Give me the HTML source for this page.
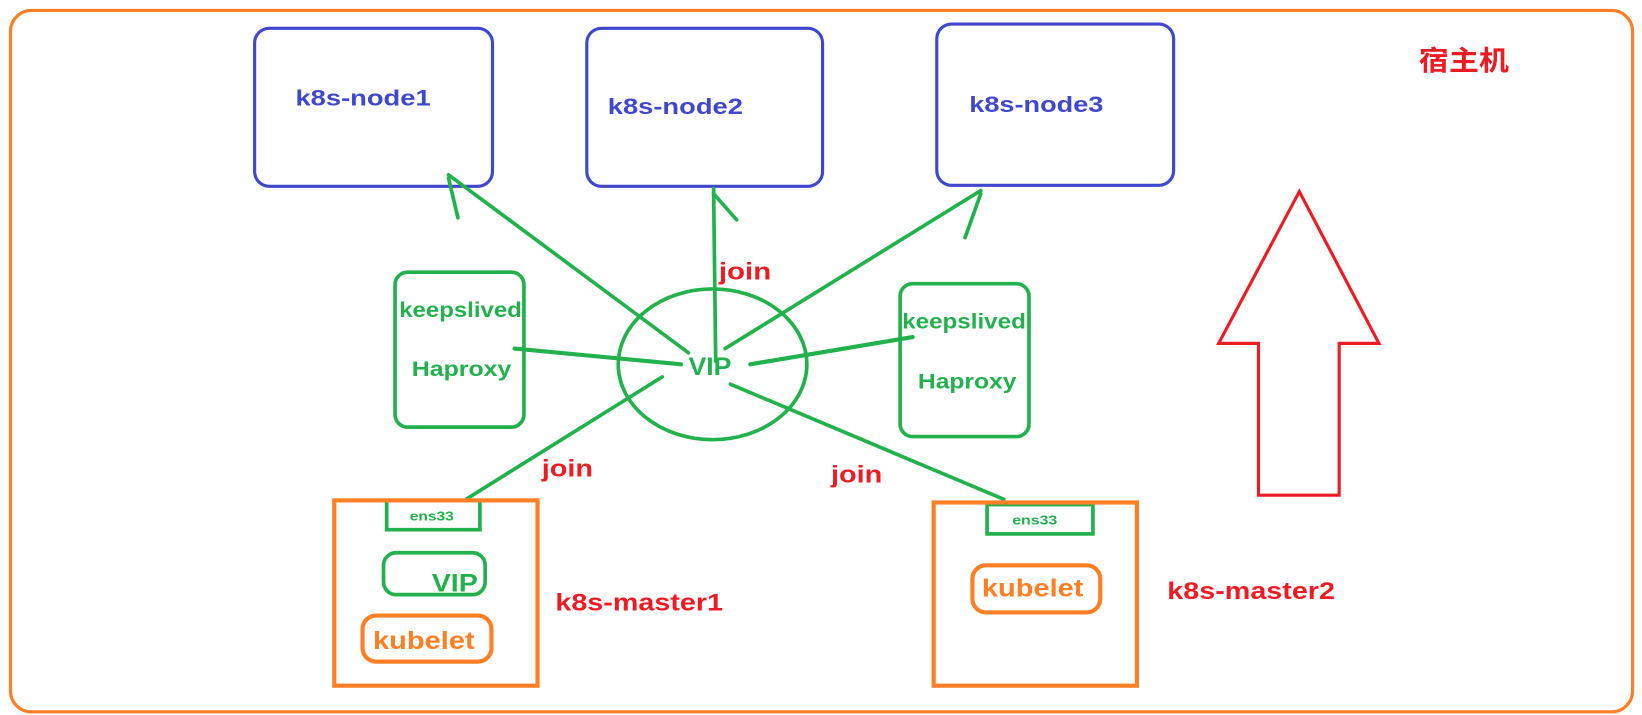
<!DOCTYPE html>
<html><head><meta charset="utf-8"><style>
html,body{margin:0;padding:0;background:#fff;}
svg{display:block;}
text{font-family:"Liberation Sans","Noto Sans CJK SC",sans-serif;font-weight:bold;}
</style></head><body>
<svg width="1642" height="715" viewBox="0 0 1567 683" preserveAspectRatio="none" xmlns="http://www.w3.org/2000/svg">
<rect x="10" y="10" width="1548" height="670" rx="20" fill="none" stroke="#FF7F27" stroke-width="3"/>
<g fill="none" stroke="#3F48CC" stroke-width="3">
<rect x="243" y="27" width="227" height="151" rx="14"/>
<rect x="560" y="27" width="225" height="151" rx="14"/>
<rect x="894" y="23" width="226" height="154" rx="14"/>
</g>
<g fill="#3F48CC" font-size="21" lengthAdjust="spacingAndGlyphs">
<text x="282" y="101" textLength="129" lengthAdjust="spacingAndGlyphs">k8s-node1</text>
<text x="580" y="109" textLength="129" lengthAdjust="spacingAndGlyphs">k8s-node2</text>
<text x="925" y="107" textLength="128" lengthAdjust="spacingAndGlyphs">k8s-node3</text>
</g>
<text x="1354" y="67" fill="#ED1C24" font-size="26" textLength="86" lengthAdjust="spacingAndGlyphs">宿主机</text>
<g stroke="#22B14C" stroke-width="3.5" fill="none" stroke-linecap="round">
<line x1="657" y1="337" x2="428" y2="167"/><line x1="428" y1="170" x2="437" y2="208"/>
<line x1="683" y1="345" x2="681" y2="180"/><line x1="681" y1="185" x2="703" y2="210"/>
<line x1="692" y1="333" x2="936" y2="182"/><line x1="936" y1="185" x2="921" y2="227"/>
<rect x="377" y="260" width="123" height="148" rx="12"/>
<rect x="859" y="271" width="123" height="146" rx="12"/>
<line x1="491" y1="333" x2="650" y2="348" stroke-width="4"/>
<ellipse cx="680" cy="348" rx="90" ry="72"/>
<line x1="716" y1="348" x2="871" y2="322" stroke-width="4"/>
<line x1="632" y1="360" x2="443" y2="478"/>
<line x1="697" y1="367" x2="958" y2="477"/>
<rect x="369" y="478" width="89" height="28"/>
<rect x="942" y="482" width="101" height="28"/>
<rect x="366" y="528" width="97" height="40" rx="12"/>
</g>
<g fill="#22B14C" font-size="20">
<text x="381" y="303" textLength="117" lengthAdjust="spacingAndGlyphs">keepslived</text>
<text x="393" y="359" textLength="95" lengthAdjust="spacingAndGlyphs">Haproxy</text>
<text x="861" y="314" textLength="118" lengthAdjust="spacingAndGlyphs">keepslived</text>
<text x="876" y="371" textLength="94" lengthAdjust="spacingAndGlyphs">Haproxy</text>
<text x="657" y="358" font-size="24" textLength="41" lengthAdjust="spacingAndGlyphs">VIP</text>
<text x="412" y="565" font-size="24" textLength="44" lengthAdjust="spacingAndGlyphs">VIP</text>
<text x="391" y="497" font-size="12" textLength="42" lengthAdjust="spacingAndGlyphs">ens33</text>
<text x="966" y="501" font-size="12" textLength="43" lengthAdjust="spacingAndGlyphs">ens33</text>
</g>
<g fill="#ED1C24" font-size="23">
<text x="686" y="267" textLength="50" lengthAdjust="spacingAndGlyphs">join</text>
<text x="517" y="455" textLength="49" lengthAdjust="spacingAndGlyphs">join</text>
<text x="793" y="461" textLength="49" lengthAdjust="spacingAndGlyphs">join</text>
<text x="530" y="583" textLength="160" lengthAdjust="spacingAndGlyphs">k8s-master1</text>
<text x="1114" y="572" textLength="160" lengthAdjust="spacingAndGlyphs">k8s-master2</text>
</g>
<g fill="none" stroke="#FF7F27" stroke-width="4">
<rect x="319" y="478" width="194" height="177"/>
<rect x="891" y="480" width="194" height="175"/>
<rect x="346" y="588" width="123" height="44" rx="13"/>
<rect x="928" y="540" width="122" height="45" rx="13"/>
</g>
<g fill="#FF7F27" font-size="24">
<text x="356" y="620" textLength="97" lengthAdjust="spacingAndGlyphs">kubelet</text>
<text x="937" y="570" textLength="97" lengthAdjust="spacingAndGlyphs">kubelet</text>
</g>
<polygon points="1240,183 1316,328 1278,328 1278,473 1201,473 1201,328 1163,328" fill="none" stroke="#ED1C24" stroke-width="3"/>
</svg>
</body></html>
